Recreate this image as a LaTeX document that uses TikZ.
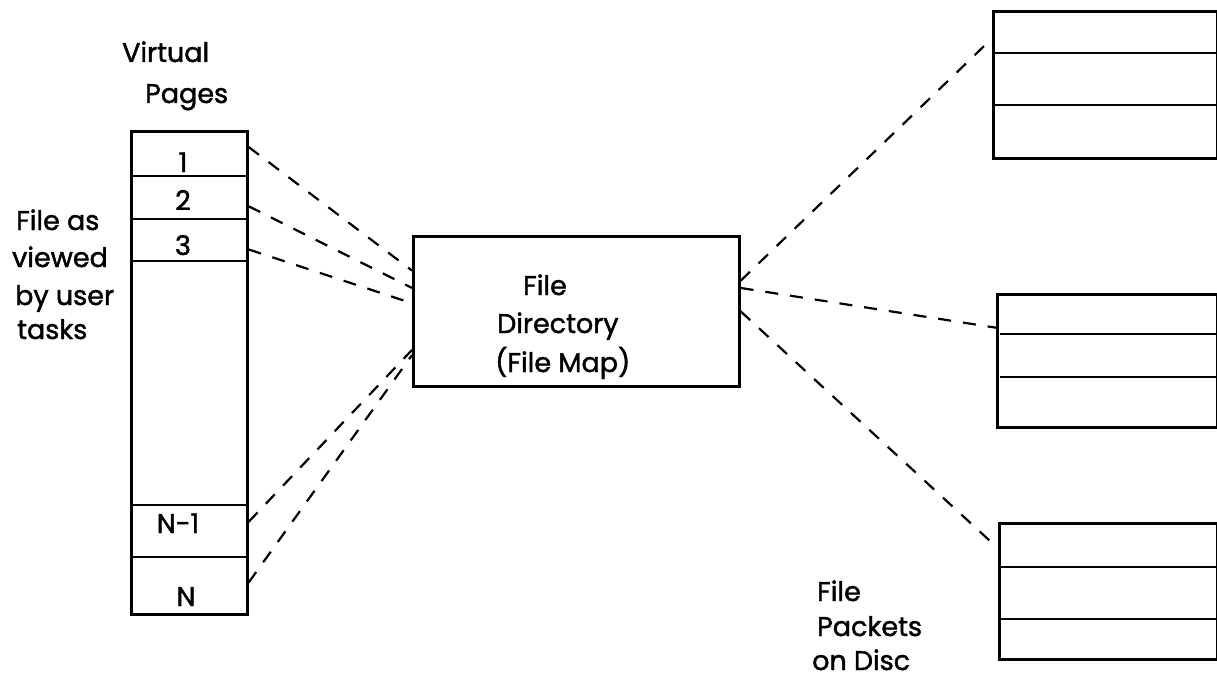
\documentclass[tikz,border=0pt]{standalone}
\usepackage{fontspec}
\setmainfont{Poppins}[BoldFont=Poppins, BoldFeatures={FakeBold=1.6}]
\usetikzlibrary{calc}

\tikzset{
  box/.style={draw, line width=2.6pt, inner sep=0pt},
  rule/.style={line width=2.4pt},
  link/.style={line width=2.2pt, dash pattern=on 13pt off 12pt},
  lbl/.style={inner sep=0pt, anchor=base west, font=\fontsize{27}{34}\selectfont\bfseries},
  num/.style={inner sep=0pt, anchor=base, font=\fontsize{27}{34}\selectfont\bfseries},
}

\begin{document}
\begin{tikzpicture}[x=1pt, y=-1pt]
\useasboundingbox (0,0) rectangle (1217,679);

% ---- file as seen by the tasks: a column of virtual pages ----
\node[box, minimum width=116pt, minimum height=483pt, anchor=north west] (col) at (130,130) {};
\foreach \yy in {176,219,261,505,557}
  \draw[rule] ($(col.west |- 0,\yy)+(3,0)$) -- (col.east |- 0,\yy);

\node[num] (p1) at (183,172) {1};
\node[num] (p2) at (183,210) {2};
\node[num] (p3) at (183,255) {3};
\node[num] (pn1) at (178,533) {N-1};
\node[num] (pn) at (186,606) {N};

\node[lbl] (vt1) at (122,62) {Virtual};
\node[lbl] (vt2) at (145,103) {Pages};

\node[lbl] (fv1) at (16,230) {File as};
\node[lbl] (fv2) at (12,267) {viewed};
\node[lbl] (fv3) at (15,305) {by user};
\node[lbl] (fv4) at (17,339) {tasks};

% ---- the directory ----
\node[box, minimum width=326pt, minimum height=150pt, anchor=north west] (dir) at (412,235) {};
\node[lbl] (d1) at (523,295) {File};
\node[lbl] (d2) at (497,333) {Directory};
\node[lbl] (d3) at (495,372) {(File Map)};

% ---- packets on disc ----
\node[box, minimum width=224pt, minimum height=147pt, anchor=north west] (pk1) at (992,10) {};
\foreach \yy in {53,105}
  \draw[rule] (pk1.west |- 0,\yy) -- (pk1.east |- 0,\yy);

\node[box, minimum width=220pt, minimum height=133pt, anchor=north west] (pk2) at (996,293) {};
\foreach \yy in {334,377}
  \draw[rule] ($(pk2.west |- 0,\yy)+(4,0)$) -- (pk2.east |- 0,\yy);

\node[box, minimum width=218pt, minimum height=136pt, anchor=north west] (pk3) at (998,522) {};
\foreach \yy in {567,619}
  \draw[rule] (pk3.west |- 0,\yy) -- (pk3.east |- 0,\yy);

\node[lbl] (fp1) at (817,601) {File};
\node[lbl] (fp2) at (817,636) {Packets};
\node[lbl] (fp3) at (812,670) {on Disc};

% ---- pages to directory ----
\draw[link] ($(col.north east)!0.035!(col.south east)$) -- ($(dir.north west)!0.233!(dir.south west)$);
\draw[link] ($(col.north east)!0.157!(col.south east)$) -- ($(dir.north west)!0.347!(dir.south west)$);
\draw[link] ($(col.north east)!0.246!(col.south east)$) -- ($(dir.north west)!0.447!(dir.south west)$);
\draw[link] ($(col.north east)!0.807!(col.south east)$) -- ($(dir.north west)!0.753!(dir.south west)$);
\draw[link] ($(col.north east)!0.932!(col.south east)$) -- ($(dir.north west)!0.787!(dir.south west)$);

% ---- directory to packets ----
\draw[link] ($(dir.north east)!0.30!(dir.south east)$) -- ($(pk1.north west)!0.19!(pk1.south west)$);
\draw[link] ($(dir.north east)!0.347!(dir.south east)$) -- ($(pk2.north west)!0.256!(pk2.south west)$);
\draw[link] ($(dir.north east)!0.50!(dir.south east)$) -- ($(pk3.north west)!0.19!(pk3.south west)$);
\end{tikzpicture}
\end{document}
